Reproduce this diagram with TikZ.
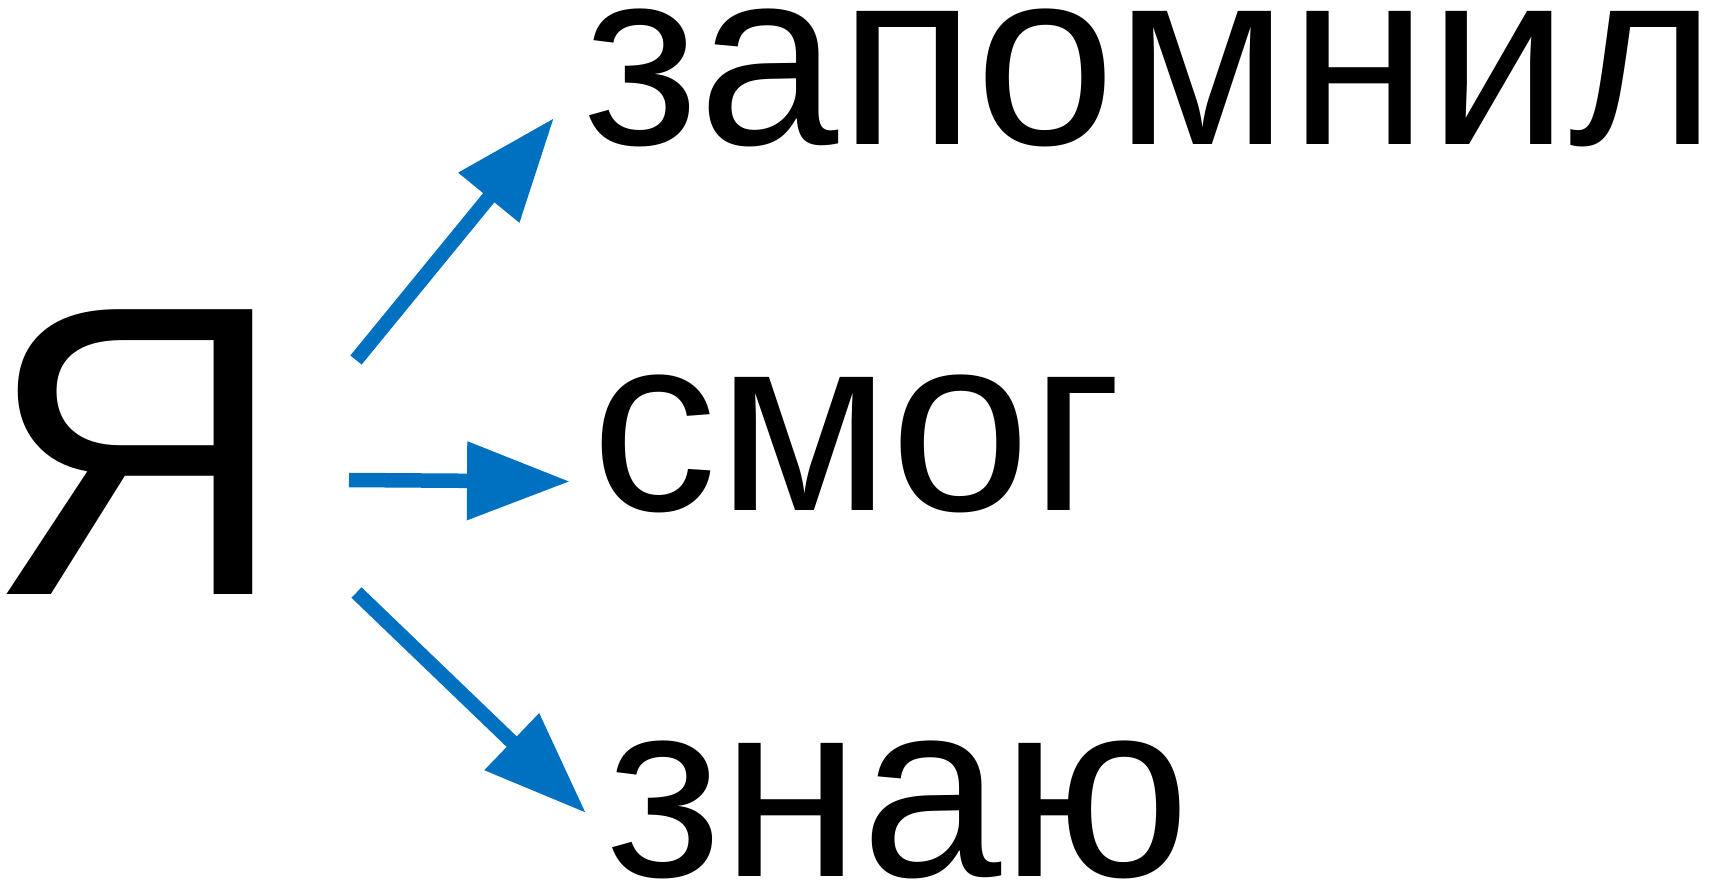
\documentclass[tikz,border=0pt]{standalone}
\usepackage{fontspec}
\setmainfont{Liberation Sans}
\usetikzlibrary{arrows.meta}
\definecolor{linkblue}{RGB}{0,112,192}
\tikzset{
	>={Triangle[length=103pt, width=75pt]}, % big filled heads
	link/.style={->, draw=linkblue, line width=14.5pt}, % the blue arrows
	word/.style={anchor=base west, inner sep=0pt, outer sep=0pt, font=\fontsize{252}{252}\selectfont}, % the three words
	me/.style={anchor=base west, inner sep=0pt, outer sep=0pt, font=\fontsize{414}{414}\selectfont}, % the big letter
}
\begin{document}
\begin{tikzpicture}[x=1pt, y=-1pt]
	\useasboundingbox (0,0) rectangle (1723,881);
	\node[me] (ya) at (-12.5,594.5) {Я};
	\node[word] (w1) at (583.5,144) {запомнил};
	\node[word] (w2) at (591,510) {смог};
	\node[word] (w3) at (606.5,876) {знаю};
	\coordinate (s1) at (356,360);
	\coordinate (e1) at (554,118);
	\coordinate (s2) at (349,480);
	\coordinate (e2) at (570,481.5);
	\coordinate (s3) at (356.5,592.5);
	\coordinate (e3) at (586,813);
	\draw[link] (s1) -- (e1);
	\draw[link] (s2) -- (e2);
	\draw[link] (s3) -- (e3);
\end{tikzpicture}
\end{document}
